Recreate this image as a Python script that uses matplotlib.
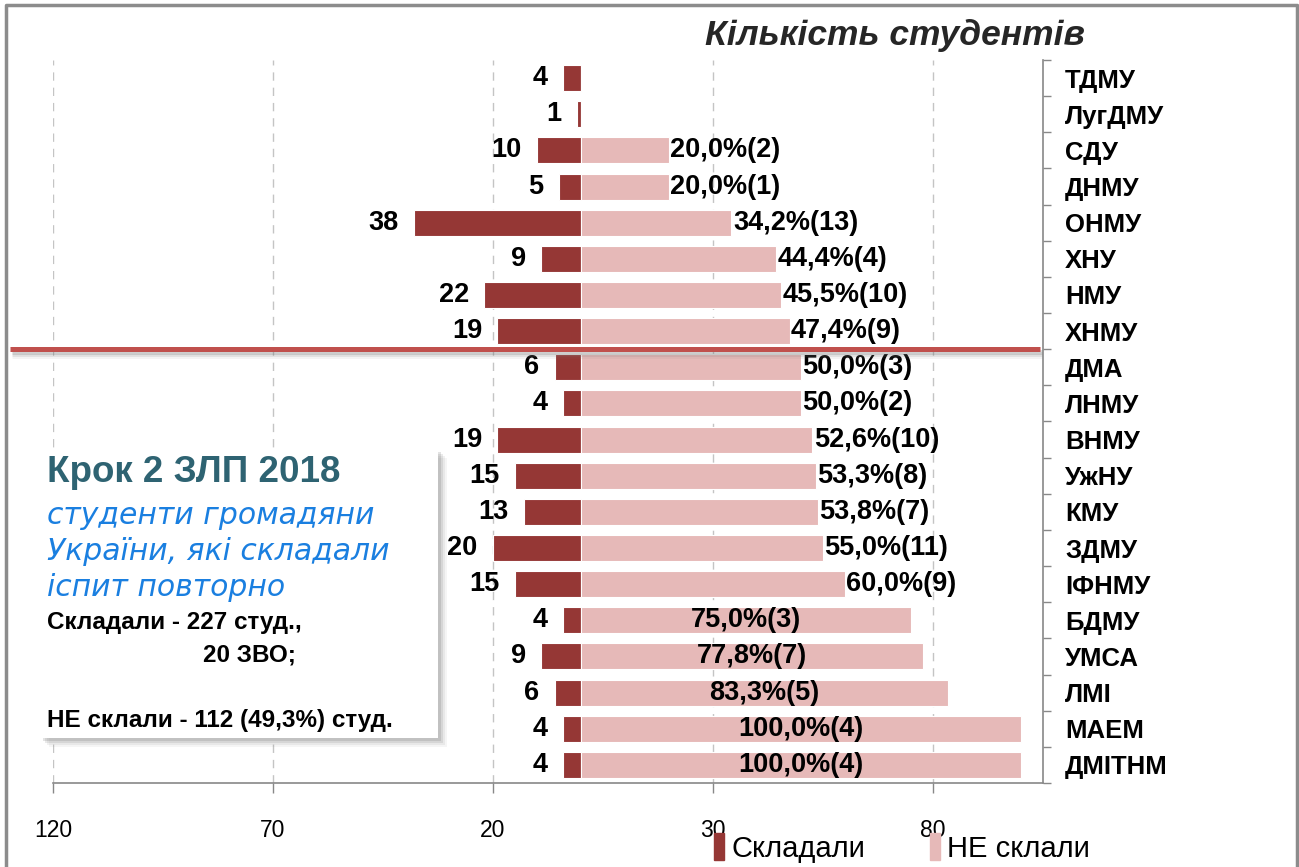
"""Крок 2 ЗЛП 2018 - butterfly chart: took the exam vs failed, by university."""
import matplotlib
matplotlib.use("Agg")
import matplotlib.pyplot as plt
import matplotlib.patches as mpatches
import matplotlib.transforms as mtransforms
import numpy as np

# ---- Data ----
universities = ["ТДМУ", "ЛугДМУ", "СДУ", "ДНМУ", "ОНМУ", "ХНУ", "НМУ", "ХНМУ",
                "ДМА", "ЛНМУ", "ВНМУ", "УжНУ", "КМУ", "ЗДМУ", "ІФНМУ", "БДМУ",
                "УМСА", "ЛМІ", "МАЕМ", "ДМІТНМ"]
took = [4, 1, 10, 5, 38, 9, 22, 19, 6, 4, 19, 15, 13, 20, 15, 4, 9, 6, 4, 4]
failed_pct = [0, 0, 20.0, 20.0, 34.2, 44.4, 45.5, 47.4, 50.0, 50.0, 52.6, 53.3,
              53.8, 55.0, 60.0, 75.0, 77.8, 83.3, 100.0, 100.0]
failed_n = [0, 0, 2, 1, 13, 4, 10, 9, 3, 2, 10, 8, 7, 11, 9, 3, 7, 5, 4, 4]
xticks = [-120, -70, -20, 30, 80]
xtick_labels = ["120", "70", "20", "30", "80"]

DARK = "#953735"
PINK = "#e6b9b8"
FONT = "Liberation Sans"

W, H = 1299, 867
fig = plt.figure(figsize=(W / 100, H / 100), dpi=100)
fig.patch.set_facecolor("white")

def fx(px): return px / W
def fy(py): return 1 - py / H

ax = fig.add_axes([fx(53), fy(783), fx(1043) - fx(53), fy(60) - fy(783)])
y = np.arange(len(universities))

ax.barh(y, [-v for v in took], height=0.72, color=DARK, edgecolor="white",
        linewidth=0.8, zorder=3)
ax.barh(y, failed_pct, height=0.72, color=PINK, edgecolor="white",
        linewidth=0.8, zorder=3)

# value labels
for i in range(len(universities)):
    ax.annotate(str(took[i]), (-took[i], i), xytext=(-11, 0),
                textcoords="offset points", ha="right", va="center",
                fontsize=19.5, fontweight="bold", family=FONT, zorder=5)
    if failed_n[i] == 0:
        continue
    lbl = f"{failed_pct[i]:.1f}".replace(".", ",") + f"%({failed_n[i]})"
    if failed_pct[i] >= 75:
        ax.text(failed_pct[i] / 2, i, lbl, ha="center", va="center",
                fontsize=19.5, fontweight="bold", family=FONT, zorder=5)
    else:
        ax.annotate(lbl, (failed_pct[i], i), xytext=(1, 0),
                    textcoords="offset points", ha="left", va="center",
                    fontsize=19.5, fontweight="bold", family=FONT, zorder=5)

ax.set_xlim(-120, 105)
ax.set_ylim(len(universities) - 0.5, -0.5)
ax.set_xticks(xticks)
ax.set_xticklabels(xtick_labels, fontsize=16.5, family=FONT)
ax.tick_params(axis="x", direction="out", length=7, width=1, color="#888888",
               pad=19)
ax.grid(axis="x", color="#c4c4c4", linestyle=(0, (6, 5)), linewidth=1, zorder=0)

ax.yaxis.tick_right()
ax.set_yticks(y)
ax.set_yticklabels(universities, fontsize=18.5, fontweight="bold", family=FONT)
ax.set_yticks(np.arange(-0.5, len(universities), 1), minor=True)
ax.tick_params(axis="y", which="major", length=0, pad=16)
ax.tick_params(axis="y", which="minor", direction="out", length=6, width=1,
               color="#888888")
for lab in ax.get_yticklabels():
    lab.set_horizontalalignment("left")

for s in ["left", "top"]:
    ax.spines[s].set_visible(False)
for s in ["right", "bottom"]:
    ax.spines[s].set_color("#888888")
    ax.spines[s].set_linewidth(1.2)

# red divider between <50% and >=50%
trans = mtransforms.blended_transform_factory(ax.transAxes, ax.transData)
x0 = (10 - 53) / (1043 - 53)
x1 = (1040 - 53) / (1043 - 53)
for k, a in enumerate([0.25, 0.15, 0.08]):
    ax.plot([x0 + 0.002, x1 + 0.002], [7.58 + 0.05 * k, 7.58 + 0.05 * k],
            transform=trans, color="#777777", linewidth=3.5, alpha=a,
            clip_on=False, zorder=6, solid_capstyle="butt")
ax.plot([x0, x1], [7.5, 7.5], transform=trans, color="#c0504d", linewidth=3.6,
        clip_on=False, zorder=7, solid_capstyle="butt")

# title
fig.text(fx(1085), fy(35), "Кількість студентів", ha="right", va="center",
         fontsize=25.5, fontweight="bold", fontstyle="italic", family=FONT,
         color="#262626")

# info box with soft shadow
bx0, by0, bx1, by1 = 40, 449, 438, 738
for off, a in [(9, 0.06), (7, 0.08), (5, 0.12), (3, 0.16)]:
    fig.patches.append(mpatches.Rectangle((fx(bx0 + off), fy(by1 + off)),
                                          fx(bx1 - bx0), fy(by0) - fy(by1),
                                          transform=fig.transFigure,
                                          facecolor="#555555", edgecolor="none",
                                          alpha=a, zorder=8))
fig.patches.append(mpatches.Rectangle((fx(bx0), fy(by1)),
                                      fx(bx1 - bx0), fy(by0) - fy(by1),
                                      transform=fig.transFigure, facecolor="white",
                                      edgecolor="none", zorder=9))
fig.text(fx(47), fy(472), "Крок 2 ЗЛП 2018", ha="left", va="center",
         fontsize=26.5, fontweight="bold", family=FONT, color="#2e6372", zorder=10)
for txt, py in [("студенти громадяни", 515), ("України, які складали", 552),
                ("іспит повторно", 588)]:
    fig.text(fx(47), fy(py), txt, ha="left", va="center", fontsize=21.5,
             fontstyle="italic", family="DejaVu Sans", color="#1a7fe0", zorder=10)
fig.text(fx(47), fy(622), "Складали - 227 студ.,", ha="left", va="center",
         fontsize=17.5, fontweight="bold", family=FONT, zorder=10)
fig.text(fx(203), fy(655), "20 ЗВО;", ha="left", va="center",
         fontsize=17.5, fontweight="bold", family=FONT, zorder=10)
fig.text(fx(47), fy(720), "НЕ склали - 112 (49,3%) студ.", ha="left", va="center",
         fontsize=17.5, fontweight="bold", family=FONT, zorder=10)

# legend
handles = [mpatches.Patch(color=DARK, label="Складали"),
           mpatches.Patch(color=PINK, label="НЕ склали")]
fig.legend(handles=handles, loc="center left", bbox_to_anchor=(fx(688), fy(848)),
           ncol=2, frameon=False, handlelength=0.35, handleheight=1.0,
           handletextpad=0.25, columnspacing=2.2,
           prop={"family": FONT, "size": 21})

# outer frame (left, top, right)
fig.lines.append(plt.Line2D([fx(6), fx(6), fx(1297), fx(1297)],
                            [0, fy(5), fy(5), 0], transform=fig.transFigure,
                            color="#8c8c8c", linewidth=2.5))

fig.savefig("out.png", dpi=100)
